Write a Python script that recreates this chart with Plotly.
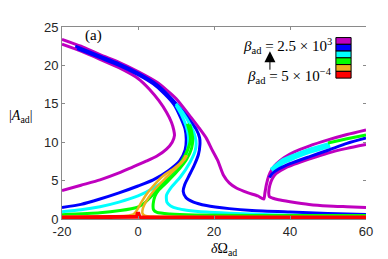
import plotly.graph_objects as go

# ---------------- data ----------------
X_TICKS = [-20, 0, 20, 40, 60]
X_TICKTEXT = ["-20", "0", "20", "40", "60"]
Y_TICKS = [0, 5, 10, 15, 20, 25]
LEGEND_COLORS = ["#BF00BF", "#0000FF", "#00FFFF", "#00FF00", "#EDB120", "#FF0000"]
LABEL_TOP = "<i>β</i><sub>ad</sub> = 2.5 × 10<sup>3</sup>"
LABEL_BOTTOM = "<i>β</i><sub>ad</sub> = 5 × 10<sup>−4</sup>"

# magenta (beta = 2.5e3)
MAG_A_X = [-20, -15, -10, -5, -1.3, 2, 5, 7.5, 9.0, 9.6, 9.4, 8.8, 7.5, 5.5, 3, 0, -5, -10, -15, -20]
MAG_A_Y = [3.7, 4.4, 5.1, 6.0, 6.8, 7.5, 8.2, 9.1, 10.0, 10.9, 11.6, 12.6, 13.9, 15.4, 16.9, 18.3, 19.7, 20.8, 21.85, 22.75]
MAG_B_X = [-20, -15, -10, -5, 0, 5, 10, 14, 16, 18, 19.5, 21, 22.5, 24, 26, 29, 31.5, 33.1, 33.4, 33.8, 34.4, 35.3, 36.5, 38.5, 41, 45, 50, 55, 60]
MAG_B_Y = [23.4, 22.5, 21.4, 20.4, 19.2, 17.8, 15.7, 13.2, 11.9, 10.5, 9.0, 7.6, 5.7, 4.7, 4.0, 3.4, 3.0, 2.6, 3.4, 4.5, 5.6, 6.5, 7.2, 8.0, 8.7, 9.5, 10.3, 11.0, 11.6]
MAG_C_X = [60, 55, 50, 45, 41, 38.2, 36.3, 35.3, 34.7, 34.4, 34.6, 35.5, 37, 40, 45, 50, 55, 60]
MAG_C_Y = [9.7, 9.2, 8.6, 7.8, 7.1, 6.5, 5.9, 5.2, 4.4, 3.4, 2.9, 2.7, 2.5, 2.25, 1.9, 1.7, 1.6, 1.5]

# blue
BLU_A_X = [-20, -15, -10, -5, 0, 4, 8, 11, 12.4, 12.7, 12.4, 11.4, 9.5, 7, 4, 0, -5, -10, -16]
BLU_A_Y = [1.5, 1.9, 2.6, 3.4, 4.3, 5.1, 6.3, 7.6, 9.0, 10.4, 11.7, 13.0, 14.9, 16.3, 17.6, 18.8, 20.0, 21.0, 22.2]
BLU_B_X = [-16.5, -10, -5, 0, 5, 9, 12, 14, 15.4, 16.2, 16.3, 15.9, 14.8, 13.4, 12.3, 11.9, 12.6, 14.6, 18, 24, 30, 40, 50, 60]
BLU_B_Y = [22.5, 21.2, 20.2, 19.0, 17.5, 15.6, 13.9, 12.6, 11.6, 10.6, 9.7, 8.4, 7.0, 5.6, 4.5, 3.6, 2.8, 2.2, 1.75, 1.35, 1.1, 0.9, 0.72, 0.6]
BLU_C_X = [34.6, 35.3, 37, 40, 45, 50, 55, 60]
BLU_C_Y = [5.4, 5.9, 6.5, 7.2, 8.1, 8.95, 9.85, 10.55]

# cyan
CYA_A_X = [-20, -15, -10, -5, 0, 4, 8, 10.8, 12.6, 13.3, 13.2, 12.6, 11.5, 10]
CYA_A_Y = [0.95, 1.2, 1.6, 2.2, 3.0, 4.0, 5.4, 6.8, 8.3, 9.8, 11.0, 12.2, 13.5, 14.8]
CYA_B_X = [10, 12, 13.8, 15.0, 15.3, 15.0, 13.7, 11.2, 8.7, 7.5, 7.6, 8.6, 10.5, 12.8, 18, 24, 35, 45, 60]
CYA_B_Y = [15.0, 13.7, 12.2, 10.8, 9.8, 8.8, 7.4, 5.5, 4.1, 3.1, 2.2, 1.7, 1.35, 1.15, 0.9, 0.75, 0.55, 0.45, 0.38]
CYA_C_X = [35.2, 36.5, 38, 41, 45, 50.5]
CYA_C_Y = [6.3, 6.85, 7.45, 8.1, 8.85, 9.65]

# green
GRN_A_X = [-20, -10, -4.7, -0.3, 1.5, 3.2, 5.8, 8.4, 10.8, 12.5, 13.5, 13.8, 13.6, 13.0]
GRN_A_Y = [0.55, 0.8, 1.1, 1.5, 2.0, 2.8, 4.2, 5.7, 7.0, 8.4, 9.6, 10.4, 11.3, 12.4]
GRN_B_X = [13.6, 14.1, 14.4, 14.1, 12.8, 10.3, 7.6, 5.5, 4.5, 4.0, 4.1, 5.0, 8.4, 15, 30, 60]
GRN_B_Y = [12.3, 11.4, 10.4, 9.2, 7.8, 6.2, 4.8, 3.8, 3.0, 2.0, 1.2, 0.85, 0.65, 0.52, 0.47, 0.45]
GRN_C_X = [50, 55, 60]
GRN_C_Y = [9.9, 10.45, 10.95]

# orange
ORA_A_X = [-20, -10, -3, -1.2, -0.2, 0.8, 2.2, 4, 6.6, 9.5, 11.8, 12.6]
ORA_A_Y = [0.3, 0.33, 0.42, 0.6, 1.2, 2.1, 3.2, 4.3, 5.6, 6.6, 7.6, 8.3]
ORA_B_X = [12.9, 12.2, 9.8, 7.0, 4.5, 2.8, 1.7, 1.2, 1.2, 1.8, 4, 10, 30, 60]
ORA_B_Y = [8.3, 7.7, 6.5, 5.2, 3.9, 2.8, 1.9, 1.2, 0.7, 0.45, 0.32, 0.28, 0.26, 0.25]

# red (beta = 5e-4)
RED_X = [-20, -1, -0.35, 0, 0.35, 1, 60]
RED_Y = [0.2, 0.2, 0.3, 0.85, 0.3, 0.2, 0.2]

# ---------------- figure ----------------
fig = go.Figure()

def add(x, y, color, width, yaxis="y"):
    fig.add_trace(go.Scatter(x=x, y=y, mode="lines", yaxis=yaxis,
                             line=dict(color=color, width=width, shape="spline", smoothing=0.6),
                             hoverinfo="skip", showlegend=False))

MAG, BLU, CYA, GRN, ORA, RED = LEGEND_COLORS
add(MAG_A_X, MAG_A_Y, MAG, 3)
add(MAG_B_X, MAG_B_Y, MAG, 3)
add(MAG_C_X, MAG_C_Y, MAG, 3)
add(BLU_A_X, BLU_A_Y, BLU, 3)
add(BLU_B_X, BLU_B_Y, BLU, 3)
add(CYA_C_X, CYA_C_Y, CYA, 6)
add(BLU_C_X, BLU_C_Y, BLU, 3)
add(CYA_A_X, CYA_A_Y, CYA, 3)
add(CYA_B_X, CYA_B_Y, CYA, 3)
add(GRN_A_X, GRN_A_Y, GRN, 3)
add(GRN_B_X, GRN_B_Y, GRN, 3)
add(GRN_C_X, GRN_C_Y, GRN, 3)
add(ORA_A_X, ORA_A_Y, ORA, 2.5)
add(ORA_B_X, ORA_B_Y, ORA, 2.5)
fig.add_trace(go.Scatter(x=RED_X, y=RED_Y, mode="lines", yaxis="y2",
                         line=dict(color=RED, width=4), hoverinfo="skip", showlegend=False))

AX = "#8a8a8a"
TICKFONT = dict(family="Liberation Sans, Arial, sans-serif", size=13, color="#262626")
SERIF = "Liberation Serif, Times New Roman, serif"

# the page body adds an 8 px offset, so the figure is 8 px smaller than the window
fig.update_layout(
    width=380, height=251,
    margin=dict(l=54, r=22, t=12, b=40),
    paper_bgcolor="white", plot_bgcolor="white",
    xaxis=dict(range=[-20, 60], tickvals=X_TICKS, ticktext=X_TICKTEXT, ticks="inside",
               ticklen=3, tickcolor=AX,
               showline=True, linecolor=AX, linewidth=1, mirror="ticks",
               showgrid=False, zeroline=False, tickfont=TICKFONT),
    yaxis=dict(range=[0, 25], tickvals=Y_TICKS, ticks="inside", ticklen=3, tickcolor=AX,
               showline=True, linecolor=AX, linewidth=1,
               showgrid=False, zeroline=False, tickfont=TICKFONT),
    yaxis2=dict(range=[0, 25], tickvals=Y_TICKS, ticks="inside", ticklen=3, tickcolor=AX,
                overlaying="y", side="right", anchor="x", showticklabels=False,
                showline=False, showgrid=False, zeroline=False),
)

# colour boxes of the beta scale
box_top = 0.945
box_h = 0.0352
for i, c in enumerate(LEGEND_COLORS):
    fig.add_shape(type="rect", xref="paper", yref="paper",
                  x0=0.901, x1=0.951, y0=box_top - (i + 1) * box_h, y1=box_top - i * box_h,
                  fillcolor=c, line=dict(color="black", width=1), layer="above")

fig.add_annotation(xref="paper", yref="paper", x=0.895, y=0.903, text=LABEL_TOP,
                   showarrow=False, xanchor="right", yanchor="middle",
                   font=dict(family=SERIF, size=15, color="black"))
fig.add_annotation(xref="paper", yref="paper", x=0.895, y=0.745, text=LABEL_BOTTOM,
                   showarrow=False, xanchor="right", yanchor="middle",
                   font=dict(family=SERIF, size=15, color="black"))
fig.add_annotation(xref="paper", yref="paper", x=0.684, y=0.874, ax=0, ay=20, text="",
                   showarrow=True, arrowhead=2, arrowsize=2.2, arrowwidth=1, arrowcolor="black")

fig.add_annotation(xref="paper", yref="paper", x=0.102, y=0.955, text="(a)",
                   showarrow=False, xanchor="center", yanchor="middle",
                   font=dict(family=SERIF, size=15, color="black"))
fig.add_annotation(xref="paper", yref="paper", x=-0.135, y=0.533,
                   text="|<i>A</i><sub>ad</sub>|", showarrow=False,
                   xanchor="center", yanchor="middle",
                   font=dict(family=SERIF, size=14, color="black"))
fig.add_annotation(xref="paper", yref="paper", x=0.533, y=-0.158,
                   text="<i>δ</i>Ω<sub>ad</sub>", showarrow=False,
                   xanchor="center", yanchor="middle",
                   font=dict(family=SERIF, size=14, color="black"))

fig.write_html("out.html")
